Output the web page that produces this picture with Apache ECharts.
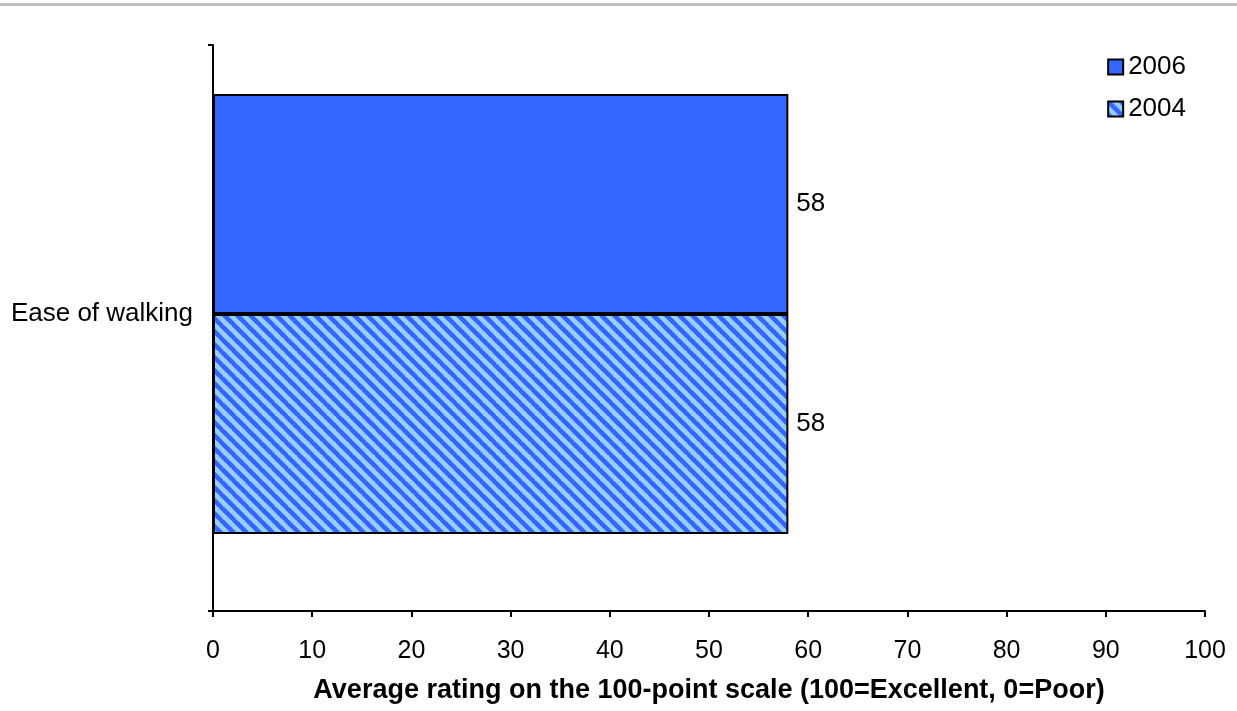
<!DOCTYPE html>
<html>
<head>
<meta charset="utf-8">
<script src="https://cdn.jsdelivr.net/npm/echarts@6/dist/echarts.min.js"></script>
<style>
  html, body { margin: 0; padding: 0; background: #fff; }
  #chart { width: 1237px; height: 711px; }
</style>
</head>
<body>
<div id="chart"></div>
<script>
// Data
const categories = ['Ease of walking'];
const seriesNames = ['2006', '2004'];
const values2006 = [58];
const values2004 = [58];
const xTicks = [0, 10, 20, 30, 40, 50, 60, 70, 80, 90, 100];

const FONT = '"Liberation Sans", Arial, sans-serif';
const X_MIN = xTicks[0];
const X_MAX = xTicks[xTicks.length - 1];
const X_STEP = xTicks[1] - xTicks[0];

// Diagonal stripe tile for the 2004 bars
function stripeTile() {
  const size = 13;
  const c = document.createElement('canvas');
  c.width = size; c.height = size;
  const g = c.getContext('2d');
  g.fillStyle = '#99ccff';
  g.fillRect(0, 0, size, size);
  g.strokeStyle = '#3366ff';
  g.lineWidth = 4.5;
  g.beginPath();
  for (let k = -1; k <= 1; k++) {
    g.moveTo(k * size - 1, -1);
    g.lineTo(k * size + size + 1, size + 1);
  }
  g.stroke();
  return c;
}

const chart = echarts.init(document.getElementById('chart'), null, { renderer: 'canvas' });

const labelCfg = {
  show: true,
  position: 'right',
  distance: 8,
  color: '#000',
  fontSize: 26,
  fontFamily: FONT
};

chart.setOption({
  animation: false,
  textStyle: { fontFamily: FONT },
  graphic: [{
    type: 'rect',
    shape: { x: 0, y: 3, width: 1237, height: 3 },
    style: { fill: '#c0c0c0' }
  }],
  legend: {
    orient: 'vertical',
    right: 46,
    top: 49,
    itemWidth: 15,
    itemHeight: 15,
    itemGap: 16,
    icon: 'rect',
    data: seriesNames,
    textStyle: { fontSize: 26, color: '#000', fontFamily: FONT }
  },
  // grid 0 carries the drawn frame and value scale; grid 1 places the bars
  grid: [
    { left: 213, right: 32, top: 45, bottom: 100, containLabel: false },
    { left: 213, right: 32, top: 45, bottom: 128, containLabel: false }
  ],
  xAxis: [
    {
      type: 'value',
      gridIndex: 0,
      min: X_MIN,
      max: X_MAX,
      interval: X_STEP,
      splitLine: { show: false },
      axisLine: { show: true, lineStyle: { color: '#000', width: 2 } },
      axisTick: { show: true, length: 6, lineStyle: { color: '#000', width: 2 } },
      axisLabel: { fontSize: 25, color: '#000', margin: 28, fontFamily: FONT },
      name: 'Average rating on the 100-point scale (100=Excellent, 0=Poor)',
      nameLocation: 'middle',
      nameGap: 66,
      nameTextStyle: { fontSize: 27, fontWeight: 'bold', color: '#000', fontFamily: FONT }
    },
    {
      type: 'value',
      gridIndex: 1,
      min: X_MIN,
      max: X_MAX,
      interval: X_STEP,
      show: false
    }
  ],
  yAxis: [
    {
      type: 'category',
      gridIndex: 0,
      data: categories,
      inverse: true,
      axisLine: { show: true, lineStyle: { color: '#000', width: 2 } },
      axisTick: { show: true, length: 5, alignWithLabel: false, lineStyle: { color: '#000', width: 2 } },
      axisLabel: { show: false }
    },
    {
      type: 'category',
      gridIndex: 1,
      data: categories,
      inverse: true,
      axisLine: { show: false },
      axisTick: { show: false },
      axisLabel: { fontSize: 26, color: '#000', margin: 20, fontFamily: FONT, padding: [4, 0, 0, 0] }
    }
  ],
  series: [
    {
      name: seriesNames[0],
      type: 'bar',
      xAxisIndex: 1,
      yAxisIndex: 1,
      data: values2006,
      barWidth: 220,
      barGap: '0%',
      itemStyle: { color: '#3366ff', borderColor: '#000', borderWidth: 2 },
      label: labelCfg
    },
    {
      name: seriesNames[1],
      type: 'bar',
      xAxisIndex: 1,
      yAxisIndex: 1,
      data: values2004,
      barWidth: 220,
      barGap: '0%',
      itemStyle: {
        color: { image: stripeTile(), repeat: 'repeat' },
        borderColor: '#000',
        borderWidth: 2
      },
      label: labelCfg
    }
  ]
});
</script>
</body>
</html>
